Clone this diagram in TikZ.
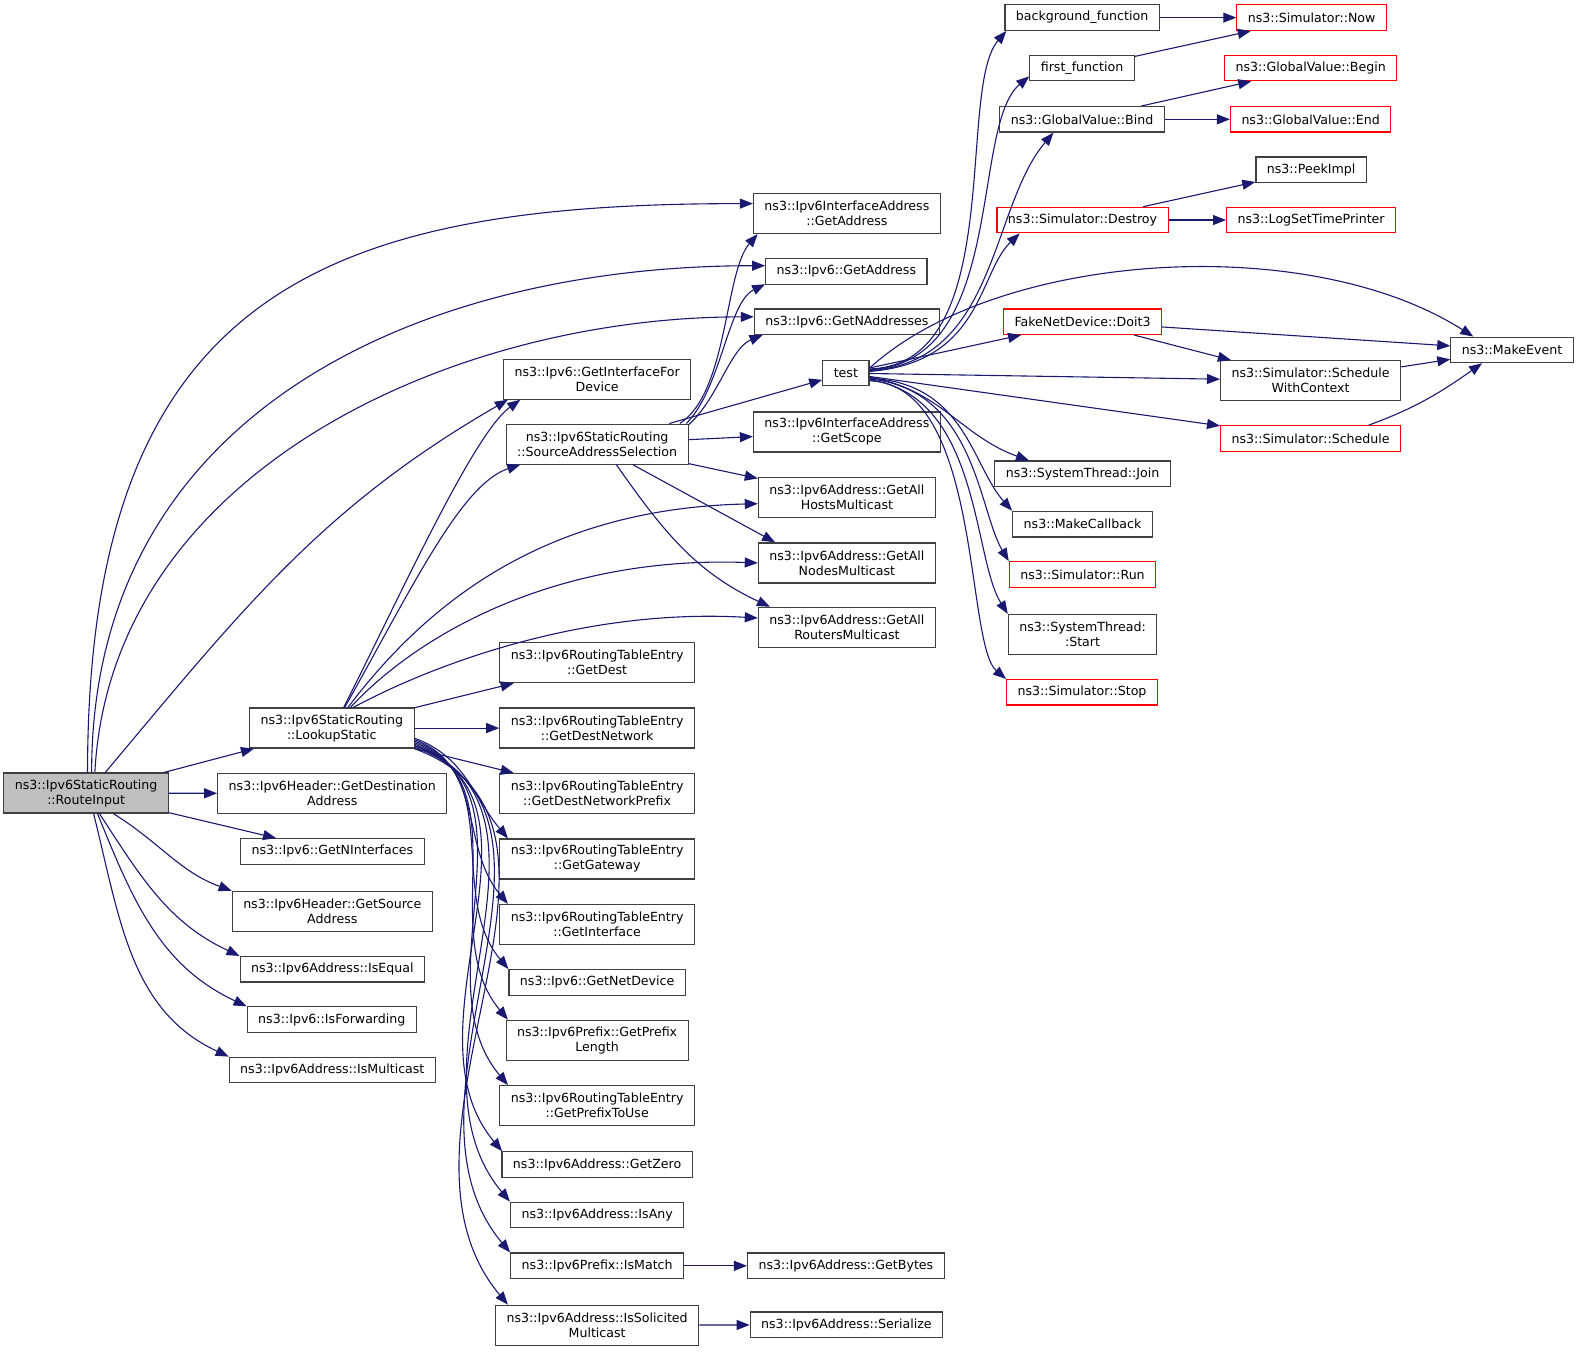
\documentclass[tikz,border=0pt]{standalone}
\usepackage{fontspec}
\setmainfont{DejaVu Sans}
\usepackage{tikz}
\usetikzlibrary{arrows.meta}
\usepackage{xcolor}
\definecolor{edgeblue}{HTML}{191970}
\definecolor{boxgray}{HTML}{404040}
\definecolor{hotred}{HTML}{FF0000}
\definecolor{rootgray}{HTML}{BFBFBF}

\begin{document}
\begin{tikzpicture}[x=1.007pt, y=-1.007pt,
    fn/.style={draw=boxgray, line width=1.2pt, rectangle, fill=white, align=center,
      font=\fontsize{12.6}{15}\selectfont, inner xsep=11pt, inner ysep=2pt, minimum height=25.5pt},
    two/.style={minimum height=40pt},
    redbox/.style={draw=hotred},
    rootbox/.style={fill=rootgray},
    call/.style={-{Triangle[length=13pt,width=10pt]}, draw=edgeblue, line width=1.1pt}]
        \useasboundingbox (0,0) rectangle (1568,1341.6);

        % Function being graphed
        \node[fn, two, rootbox] (ri) at (85.5,787.5) {ns3::Ipv6StaticRouting\\::RouteInput};

        % Direct callees
        \node[fn, two] (ls) at (329.5,723) {ns3::Ipv6StaticRouting\\::LookupStatic};
        \node[fn, two] (gda) at (330,788) {ns3::Ipv6Header::GetDestination\\Address};
        \node[fn] (gni) at (330,845.5) {ns3::Ipv6::GetNInterfaces};
        \node[fn, two] (gsa) at (330,905) {ns3::Ipv6Header::GetSource\\Address};
        \node[fn] (ise) at (330,962.5) {ns3::Ipv6Address::IsEqual};
        \node[fn] (isf) at (329.5,1012.5) {ns3::Ipv6::IsForwarding};
        \node[fn] (ism) at (330,1062.5) {ns3::Ipv6Address::IsMulticast};

        % Third column
        \node[fn, two] (gifd) at (593,376.5) {ns3::Ipv6::GetInterfaceFor\\Device};
        \node[fn, two] (sas) at (593,441) {ns3::Ipv6StaticRouting\\::SourceAddressSelection};
        \node[fn, two] (gd) at (593,658) {ns3::Ipv6RoutingTableEntry\\::GetDest};
        \node[fn, two] (gdn) at (593,723) {ns3::Ipv6RoutingTableEntry\\::GetDestNetwork};
        \node[fn, two] (gdnp) at (593,788) {ns3::Ipv6RoutingTableEntry\\::GetDestNetworkPrefix};
        \node[fn, two] (gg) at (593,853) {ns3::Ipv6RoutingTableEntry\\::GetGateway};
        \node[fn, two] (gi) at (593,918) {ns3::Ipv6RoutingTableEntry\\::GetInterface};
        \node[fn] (gnd) at (593,975.5) {ns3::Ipv6::GetNetDevice};
        \node[fn, two] (gpl) at (593,1033) {ns3::Ipv6Prefix::GetPrefix\\Length};
        \node[fn, two] (gptu) at (593,1098) {ns3::Ipv6RoutingTableEntry\\::GetPrefixToUse};
        \node[fn] (gz) at (593,1156.5) {ns3::Ipv6Address::GetZero};
        \node[fn] (iany) at (593,1206.5) {ns3::Ipv6Address::IsAny};
        \node[fn] (imat) at (593,1257) {ns3::Ipv6Prefix::IsMatch};
        \node[fn, two] (isol) at (593,1316) {ns3::Ipv6Address::IsSolicited\\Multicast};

        % Fourth column
        \node[fn, two] (iga) at (841,212) {ns3::Ipv6InterfaceAddress\\::GetAddress};
        \node[fn] (vga) at (840.5,269.5) {ns3::Ipv6::GetAddress};
        \node[fn] (gna) at (841,319.5) {ns3::Ipv6::GetNAddresses};
        \node[fn] (tst) at (840,370.5) {test};
        \node[fn, two] (gsc) at (841,429) {ns3::Ipv6InterfaceAddress\\::GetScope};
        \node[fn, two] (gahm) at (841,494) {ns3::Ipv6Address::GetAll\\HostsMulticast};
        \node[fn, two] (ganm) at (841,559) {ns3::Ipv6Address::GetAll\\NodesMulticast};
        \node[fn, two] (garm) at (841,623) {ns3::Ipv6Address::GetAll\\RoutersMulticast};
        \node[fn] (gby) at (840,1257) {ns3::Ipv6Address::GetBytes};
        \node[fn] (ser) at (840.5,1315.5) {ns3::Ipv6Address::Serialize};

        % Callees of test
        \node[fn] (bgf) at (1074.5,17.5) {background\_function};
        \node[fn] (ff) at (1074.5,67.5) {first\_function};
        \node[fn] (bnd) at (1074.5,118.5) {ns3::GlobalValue::Bind};
        \node[fn, redbox] (dst) at (1075,218.5) {ns3::Simulator::Destroy};
        \node[fn, redbox] (doit) at (1075,319.5) {FakeNetDevice::Doit3};
        \node[fn] (join) at (1075,470.5) {ns3::SystemThread::Join};
        \node[fn] (mcb) at (1075,520.5) {ns3::MakeCallback};
        \node[fn, redbox] (run) at (1075,570.5) {ns3::Simulator::Run};
        \node[fn, two] (sts) at (1075,630) {ns3::SystemThread:\\:Start};
        \node[fn, redbox] (stp) at (1074.5,687.5) {ns3::Simulator::Stop};

        % Sixth column
        \node[fn, redbox] (now) at (1302.5,17.5) {ns3::Simulator::Now};
        \node[fn, redbox] (gvb) at (1301.5,67.5) {ns3::GlobalValue::Begin};
        \node[fn, redbox] (gve) at (1301.5,118.5) {ns3::GlobalValue::End};
        \node[fn] (pki) at (1302,168.5) {ns3::PeekImpl};
        \node[fn, redbox] (lstp) at (1302,218.5) {ns3::LogSetTimePrinter};
        \node[fn, two] (swc) at (1301.5,378) {ns3::Simulator::Schedule\\WithContext};
        \node[fn, redbox] (sch) at (1301.5,435.5) {ns3::Simulator::Schedule};
        \node[fn] (mev) at (1501.5,347.5) {ns3::MakeEvent};

        % Calls from RouteInput
        \draw[call] (ri.86) .. controls +(0,-480) and +(-420,0) .. (iga.174);
        \draw[call] (ri.75) .. controls +(0,-360) and +(-340,0) .. (vga.176);
        \draw[call] (ri.67) .. controls +(16,-300) and +(-298,0) .. (gna.177);
        \draw[call] (ri.47) to[out=50,in=-150] (gifd.193);
        \draw[call] (ri) -- (ls);
        \draw[call] (ri) -- (gda);
        \draw[call] (ri) -- (gni);
        \draw[call] (ri.-37) to[out=-32,in=160] (gsa.north west);
        \draw[call] (ri.-57) to[out=-57,in=155] (ise.north west);
        \draw[call] (ri.-61) to[out=-68,in=155] (isf.north west);
        \draw[call] (ri.-70) to[out=-76,in=155] (ism.north west);

        % Calls from LookupStatic
        \draw[call] (ls.60) .. controls +(57,-113) and +(-46,33) .. (gifd.195);
        \draw[call] (ls.58) .. controls +(69,-123) and +(-58,19) .. (sas.195);
        \draw[call] (ls.52) .. controls +(78,-103) and +(-213,5) .. (gahm.184);
        \draw[call] (ls.48) .. controls +(72.5,-78) and +(-193,-7) .. (ganm.west);
        \draw[call] (ls.44) .. controls +(80,-43) and +(-173,-10) .. (garm.174);
        \draw[call] (ls) -- (gd);
        \draw[call] (ls) -- (gdn);
        \draw[call] (ls) -- (gdnp);
        \draw[call] (ls.-7) to[out=-20,in=130] (gg.167);
        \draw[call] (ls.-8) to[out=-20,in=130] (gi.167);
        \draw[call] (ls.-9) to[out=-20,in=130] (gnd.north west);
        \draw[call] (ls.-10) to[out=-20,in=130] (gpl.167);
        \draw[call] (ls.-11) to[out=-20,in=130] (gptu.167);
        \draw[call] (ls.-12) to[out=-20,in=130] (gz.172);
        \draw[call] (ls.-12) to[out=-20,in=130] (iany.north west);
        \draw[call] (ls.-13) to[out=-20,in=130] (imat.north west);
        \draw[call] (ls.-14) to[out=-20,in=130] (isol.167);

        % Calls from SourceAddressSelection
        \draw[call] (sas.14) .. controls +(48,-31) and +(-33,38) .. (iga.193);
        \draw[call] (sas.13) .. controls +(35,-36) and +(-37,18) .. (vga.189);
        \draw[call] (sas.12) .. controls +(29,-26) and +(-32,13) .. (gna.189);
        \draw[call] (sas) -- (tst);
        \draw[call] (sas) -- (gsc);
        \draw[call] (sas) -- (gahm);
        \draw[call] (sas.-30) -- (ganm.164);
        \draw[call] (sas.-47) to[out=-55,in=155] (garm.165);

        % Calls from test
        \draw[call] (tst.10) .. controls +(137,-4) and +(-50,58) .. (bgf.190);
        \draw[call] (tst.8) .. controls +(137,-7) and +(-59,49.5) .. (ff.189);
        \draw[call] (tst.6) .. controls +(127,-8) and +(-63,74) .. (bnd.205);
        \draw[call] (tst.4) .. controls +(112,-9) and +(-41,39) .. (dst.192);
        \draw[call] (tst.12) .. controls +(127,-116) and +(-165,-105) .. (mev.161);
        \draw[call] (tst) -- (doit);
        \draw[call] (tst) -- (swc);
        \draw[call] (tst) -- (sch);
        \draw[call] (tst.-10) .. controls +(70,12) and +(-67,-24) .. (join.166);
        \draw[call] (tst.-12) .. controls +(95,5) and +(-40,-45) .. (mcb.north west);
        \draw[call] (tst.-14) .. controls +(105,10) and +(-30,-50) .. (run.north west);
        \draw[call] (tst.-16) .. controls +(110,15) and +(-35,-55) .. (sts.north west);
        \draw[call] (tst.-18) .. controls +(112,4) and +(-41,-35) .. (stp.north west);

        % Deeper calls
        \draw[call] (bgf) -- (now);
        \draw[call] (ff) -- (now);
        \draw[call] (bnd) -- (gvb);
        \draw[call] (bnd) -- (gve);
        \draw[call] (dst) -- (pki);
        \draw[call] (dst) -- (lstp);
        \draw[call] (doit) -- (mev);
        \draw[call] (doit) -- (swc);
        \draw[call] (swc) -- (mev);
        \draw[call] (sch.13) to[out=20,in=-145] (mev.204);
        \draw[call] (imat) -- (gby);
        \draw[call] (isol) -- (ser);
    \end{tikzpicture}
\end{document}
